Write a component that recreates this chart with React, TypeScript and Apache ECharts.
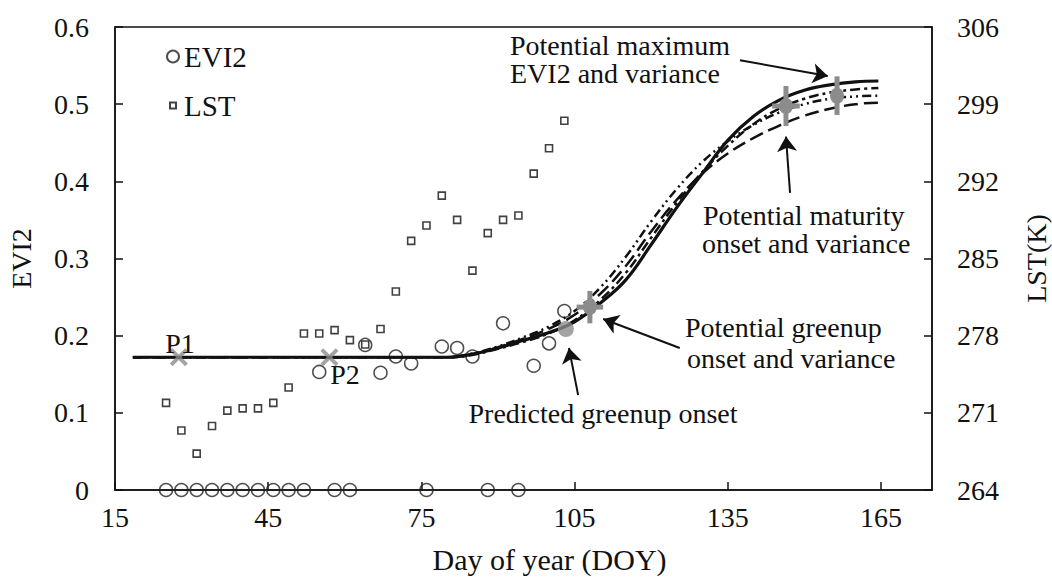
import React, { useEffect, useRef } from "react";
import * as echarts from "echarts";

// ---- data ----
const X0 = 15; // first day on the x axis
const K0 = 264; // first LST tick (K)

const obsDays = [25, 28, 31, 34, 37, 40, 43, 46, 49, 52, 55, 58, 61, 64, 67, 70, 73, 76, 79, 82, 85, 88, 91, 94, 97, 100, 103];
const evi2Values = [0, 0, 0, 0, 0, 0, 0, 0, 0, 0, 0.153, 0, 0, 0.188, 0.152, 0.173, 0.164, 0, 0.186, 0.184, 0.173, 0, 0.216, 0, 0.161, 0.19, 0.232];
const lstValues = [271.9, 269.4, 267.3, 269.8, 271.2, 271.4, 271.4, 271.9, 273.3, 278.2, 278.2, 278.5, 277.6, 277.2, 278.6, 282.0, 286.6, 288.0, 290.7, 288.5, 283.9, 287.3, 288.5, 288.9, 292.7, 295.0, 297.5];

const fitDays = [18.5, 30, 40, 50, 60, 70, 80, 85, 90, 95, 100, 105, 110, 115, 120, 125, 130, 135, 140, 145, 150, 155, 160, 164.5];
const fitSolid = [0.172, 0.172, 0.172, 0.172, 0.172, 0.172, 0.172, 0.176, 0.184, 0.194, 0.204, 0.218, 0.242, 0.272, 0.318, 0.366, 0.41, 0.453, 0.484, 0.505, 0.518, 0.525, 0.529, 0.53];
const fitDashDotDot = [0.172, 0.172, 0.172, 0.172, 0.172, 0.172, 0.172, 0.177, 0.186, 0.198, 0.212, 0.232, 0.262, 0.302, 0.348, 0.39, 0.425, 0.452, 0.473, 0.489, 0.5, 0.507, 0.51, 0.511];
const fitLongDash = [0.172, 0.172, 0.172, 0.172, 0.172, 0.172, 0.172, 0.176, 0.185, 0.196, 0.209, 0.227, 0.254, 0.29, 0.335, 0.376, 0.41, 0.436, 0.456, 0.472, 0.485, 0.494, 0.5, 0.502];
const fitDashDot = [0.172, 0.172, 0.172, 0.172, 0.172, 0.172, 0.172, 0.175, 0.183, 0.192, 0.203, 0.22, 0.246, 0.281, 0.327, 0.372, 0.412, 0.446, 0.474, 0.494, 0.507, 0.515, 0.519, 0.521];

const pointNames = ["P1", "P2"];
const pointDays = [27.5, 57];
const pointValues = [0.172, 0.172];

const predictedOnset = [103.3, 0.2086];

// [day, EVI2, day variance, EVI2 variance]
const greenup = [108, 0.237, 2.6, 0.021];
const maturity = [146.4, 0.4976, 2.7, 0.026];
const maximum = [156.4, 0.511, 0, 0.025];

// arrows: [tailDay, tailEVI2, headDay, headEVI2]
const arrows = [
  [137.4, 0.557, 154.6, 0.5365],
  [147.2, 0.385, 146.4, 0.458],
  [125.6, 0.184, 110.6, 0.2216],
  [105.7, 0.123, 103.9, 0.184],
];

const xTicks = { min: 0, max: 160, interval: 30 };
const lstTicks = { min: 0, max: 42, interval: 7 };

const FONT = "'Liberation Serif', 'Times New Roman', serif";
const GREY = "#8c8c8c";
const INK = "#111";

export default function App() {
  const ref = useRef<HTMLDivElement>(null);

  useEffect(() => {
    if (!ref.current) return;
    const chart = echarts.init(ref.current, undefined, { renderer: "svg" });

    const line = (name: string, values: number[], type: any, width: number) => ({
      name,
      type: "line",
      data: fitDays.map((d, i) => [d - X0, values[i]]),
      smooth: 0.4,
      showSymbol: false,
      symbol: "none",
      lineStyle: { color: INK, width, type },
      z: 3,
    });

    const errRender = (params: any, api: any) => {
      const x = api.value(0), y = api.value(1), dx = api.value(2), dy = api.value(3);
      const c = api.coord([x, y]);
      const t = api.coord([x, y + dy]);
      const b = api.coord([x, y - dy]);
      const children: any[] = [
        { type: "line", shape: { x1: c[0], y1: t[1], x2: c[0], y2: b[1] }, style: { stroke: GREY, lineWidth: 5 } },
      ];
      if (dx > 0) {
        const l = api.coord([x - dx, y]);
        const r = api.coord([x + dx, y]);
        children.push({ type: "line", shape: { x1: l[0], y1: c[1], x2: r[0], y2: c[1] }, style: { stroke: GREY, lineWidth: 5 } });
      }
      children.push({ type: "ellipse", shape: { cx: c[0], cy: c[1], rx: 7, ry: 8 }, style: { fill: GREY } });
      return { type: "group", children };
    };

    const xMark = "path://M0,1.5 L1.5,0 L5,3.5 L8.5,0 L10,1.5 L6.5,5 L10,8.5 L8.5,10 L5,6.5 L1.5,10 L0,8.5 L3.5,5 Z";

    const txt = (text: string, x: number, y: number, align = "left") => ({
      type: "text",
      x,
      y,
      style: { text, fontSize: 28, fontFamily: FONT, fill: INK, textAlign: align, textVerticalAlign: "middle" },
      z: 20,
    });

    chart.setOption({
      animation: false,
      backgroundColor: "#fff",
      textStyle: { fontFamily: FONT, color: INK },
      grid: {
        left: 115,
        right: 120,
        top: 27,
        bottom: 93,
        show: true,
        borderColor: INK,
        borderWidth: 1.5,
        containLabel: false,
        outerBoundsMode: "none",
      },
      legend: {
        data: [
          { name: "EVI2", icon: "circle" },
          { name: "LST", icon: "path://M0,0M12,12M3,3L9,3L9,9L3,9Z" },
        ],
        orient: "vertical",
        left: 161,
        top: 37,
        itemGap: 20,
        itemWidth: 12,
        itemHeight: 12,
        itemTextGap: 6,
        textStyle: { fontSize: 29, fontFamily: FONT, color: INK },
      },
      xAxis: {
        type: "value",
        ...xTicks,
        name: "Day of year (DOY)",
        nameLocation: "middle",
        nameGap: 54,
        nameTextStyle: { fontSize: 30, fontFamily: FONT, color: INK, padding: [0, 0, 0, 52] },
        axisLine: { lineStyle: { color: INK, width: 1.5 } },
        axisTick: { inside: true, length: 8, lineStyle: { color: INK, width: 1.5 } },
        axisLabel: {
          fontSize: 28,
          fontFamily: FONT,
          color: INK,
          margin: 13,
          showMaxLabel: false,
          formatter: (v: number) => String(v + X0),
        },
        splitLine: { show: false },
      },
      yAxis: [
        {
          type: "value",
          min: 0,
          max: 0.6,
          interval: 0.1,
          name: "EVI2",
          nameLocation: "middle",
          nameRotate: 90,
          nameGap: 80,
          nameTextStyle: { fontSize: 28, fontFamily: FONT, color: INK },
          axisLine: { show: true, lineStyle: { color: INK, width: 1.5 } },
          axisTick: { show: true, inside: true, length: 8, lineStyle: { color: INK, width: 1.5 } },
          axisLabel: {
            fontSize: 28,
            fontFamily: FONT,
            color: INK,
            margin: 26,
            formatter: (v: number) => (v === 0 ? "0" : v.toFixed(1)),
          },
          splitLine: { show: false },
        },
        {
          type: "value",
          position: "right",
          ...lstTicks,
          name: "LST(K)",
          nameLocation: "middle",
          nameRotate: 90,
          nameGap: 90,
          nameTextStyle: { fontSize: 28, fontFamily: FONT, color: INK },
          axisLine: { show: true, lineStyle: { color: INK, width: 1.5 } },
          axisTick: { show: true, inside: true, length: 8, lineStyle: { color: INK, width: 1.5 } },
          axisLabel: {
            fontSize: 28,
            fontFamily: FONT,
            color: INK,
            margin: 25,
            formatter: (v: number) => String(v + K0),
          },
          splitLine: { show: false },
        },
      ],
      series: [
        {
          name: "EVI2",
          type: "scatter",
          symbol: "circle",
          symbolSize: 13,
          data: obsDays.map((d, i) => [d - X0, evi2Values[i]]),
          itemStyle: { color: "rgba(255,255,255,0)", borderColor: "#222", borderWidth: 1.5 },
          z: 2,
        },
        {
          name: "LST",
          type: "scatter",
          yAxisIndex: 1,
          symbol: "rect",
          symbolSize: 7,
          data: obsDays.map((d, i) => [d - X0, lstValues[i] - K0]),
          itemStyle: { color: "rgba(255,255,255,0)", borderColor: "#111", borderWidth: 1.6 },
          z: 2,
        },
        line("fit-dashdotdot", fitDashDotDot, [9, 4, 2, 4, 2, 4], 2.5),
        line("fit-longdash", fitLongDash, [14, 6], 2.5),
        line("fit-dashdot", fitDashDot, [10, 4, 3, 4], 2.5),
        {
          ...line("fit-solid", fitSolid, "solid", 3.2),
          markLine: {
            silent: true,
            symbol: ["none", "arrow"],
            symbolSize: 15,
            label: { show: false },
            lineStyle: { color: INK, width: 2, type: "solid" },
            data: arrows.map((a) => [
              { coord: [a[0] - X0, a[1]] },
              { coord: [a[2] - X0, a[3]] },
            ]),
          },
        },
        {
          name: "points",
          type: "scatter",
          symbol: xMark,
          symbolSize: 18,
          itemStyle: { color: GREY },
          emphasis: { disabled: true },
          data: pointDays.map((d, i) => ({ value: [d - X0, pointValues[i]], name: pointNames[i] })),
          z: 6,
        },
        {
          name: "predicted",
          type: "scatter",
          symbol: "circle",
          symbolSize: 16,
          itemStyle: { color: GREY },
          data: [[predictedOnset[0] - X0, predictedOnset[1]]],
          z: 6,
        },
        {
          name: "variance",
          type: "custom",
          renderItem: errRender,
          encode: { x: 0, y: 1 },
          data: [greenup, maturity, maximum].map((m) => [m[0] - X0, m[1], m[2], m[3]]),
          z: 7,
        },
      ],
      graphic: [
        txt(pointNames[0], 180, 343, "center"),
        txt(pointNames[1], 345, 374, "center"),
        txt("Potential maximum", 510, 45),
        txt("EVI2 and variance", 510, 73),
        txt("Potential maturity", 703, 215),
        txt("onset and variance", 702, 243),
        txt("Potential greenup", 685, 327),
        txt("onset and variance", 687, 358),
        txt("Predicted greenup onset", 603, 413, "center"),
      ],
    });

    return () => chart.dispose();
  }, []);

  return (
    <div
      ref={ref}
      style={{ position: "fixed", left: 0, top: 0, width: 1052, height: 583, background: "#fff" }}
    />
  );
}
